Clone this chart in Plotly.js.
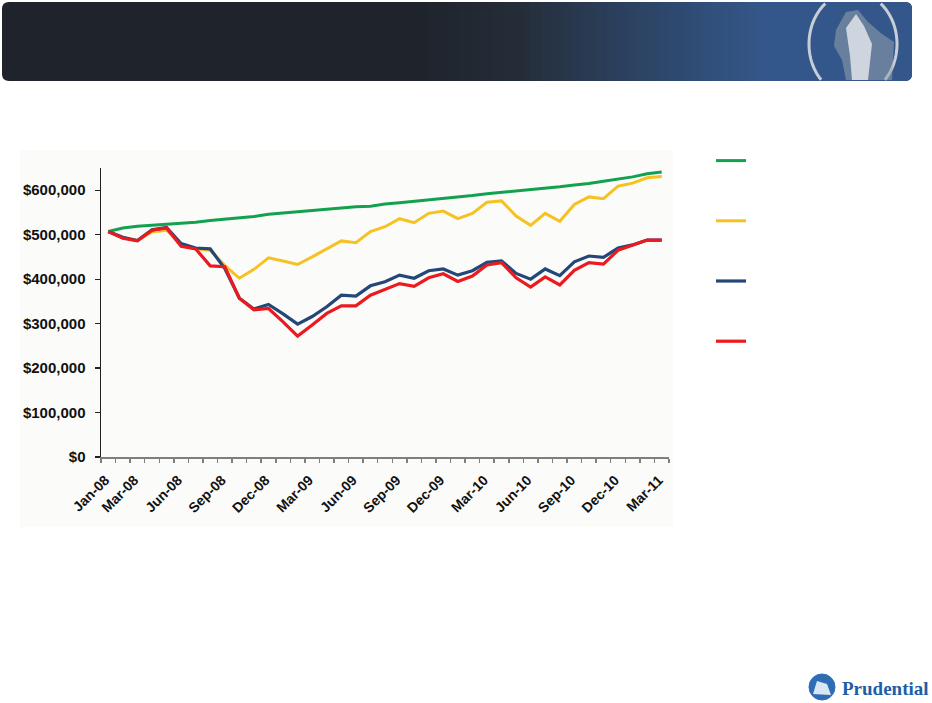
<!DOCTYPE html>
<html>
<head>
<meta charset="utf-8">
<script src="https://cdn.plot.ly/plotly-3.0.1.min.js"></script>
<style>
html,body{margin:0;padding:0;background:#ffffff;}
#chart{width:932px;height:703px;}
</style>
</head>
<body>
<div id="chart"></div>
<script>
// ---- data ----
var months = ["Jan-08","Feb-08","Mar-08","Apr-08","May-08","Jun-08","Jul-08","Aug-08","Sep-08","Oct-08","Nov-08","Dec-08",
  "Jan-09","Feb-09","Mar-09","Apr-09","May-09","Jun-09","Jul-09","Aug-09","Sep-09","Oct-09","Nov-09","Dec-09",
  "Jan-10","Feb-10","Mar-10","Apr-10","May-10","Jun-10","Jul-10","Aug-10","Sep-10","Oct-10","Nov-10","Dec-10",
  "Jan-11","Feb-11","Mar-11"];
var tickLabels = ["Jan-08","Mar-08","Jun-08","Sep-08","Dec-08","Mar-09","Jun-09","Sep-09","Dec-09","Mar-10","Jun-10","Sep-10","Dec-10","Mar-11"];
var yTicks = [0,100000,200000,300000,400000,500000,600000];
var yTickLabels = ["$0","$100,000","$200,000","$300,000","$400,000","$500,000","$600,000"];

var greenSeries = [507000,515000,519000,521000,524000,525000,528000,532000,535000,539000,541000,546000,
  549000,552000,555000,558000,561000,563000,564000,569000,572000,575000,578000,581000,
  584000,588000,592000,595000,598000,602000,605000,608000,612000,615000,620000,625000,
  630000,637000,641000];
var yellowSeries = [507000,493000,487000,506000,510000,478000,468000,465000,431000,402000,422000,448000,
  441000,433000,450000,468000,486000,482000,507000,518000,536000,527000,548000,553000,
  536000,548000,573000,576000,542000,521000,548000,530000,568000,585000,581000,609000,
  616000,628000,631000];
var blueSeries = [507000,494000,487000,511000,516000,480000,470000,468000,424000,357000,333000,343000,
  322000,299000,316000,338000,364000,362000,385000,394000,409000,402000,419000,423000,
  409000,419000,438000,441000,413000,400000,423000,408000,439000,452000,449000,470000,
  477000,488000,488000];
var redSeries = [507000,492000,486000,510000,515000,474000,468000,430000,428000,357000,331000,334000,
  304000,272000,297000,323000,340000,340000,364000,377000,390000,384000,403000,412000,
  395000,407000,432000,437000,403000,382000,405000,387000,420000,437000,434000,465000,
  477000,488000,488000];

// ---- geometry helpers (plot area in pixels) ----
var L = 101, T = 168, W = 568, H = 289;
function px(x){ return (x - L) / W; }
function py(y){ return (T + H - y) / H; }

function hexToRgb(h){ h=h.replace('#',''); return [parseInt(h.substr(0,2),16),parseInt(h.substr(2,2),16),parseInt(h.substr(4,2),16)]; }
function mix(a,b,t){ var A=hexToRgb(a),B=hexToRgb(b); return 'rgb('+Math.round(A[0]+(B[0]-A[0])*t)+','+Math.round(A[1]+(B[1]-A[1])*t)+','+Math.round(A[2]+(B[2]-A[2])*t)+')'; }
function P(x,y){ return px(x).toFixed(5)+','+py(y).toFixed(5); }

function roundRectPath(x0,y0,x1,y1,r,roundLeft,roundRight){
  var p = [];
  if(roundLeft){ p.push('M'+P(x0+r,y0)); } else { p.push('M'+P(x0,y0)); }
  if(roundRight){ p.push('L'+P(x1-r,y0)); p.push('Q'+P(x1,y0)+' '+P(x1,y0+r)); p.push('L'+P(x1,y1-r)); p.push('Q'+P(x1,y1)+' '+P(x1-r,y1)); }
  else { p.push('L'+P(x1,y0)); p.push('L'+P(x1,y1)); }
  if(roundLeft){ p.push('L'+P(x0+r,y1)); p.push('Q'+P(x0,y1)+' '+P(x0,y1-r)); p.push('L'+P(x0,y0+r)); p.push('Q'+P(x0,y0)+' '+P(x0+r,y0)); }
  else { p.push('L'+P(x0,y1)); }
  p.push('Z');
  return p.join(' ');
}
function polyPath(pts){ return 'M'+pts.map(function(p){return P(p[0],p[1]);}).join(' L')+' Z'; }

var shapes = [];
// chart background panel
shapes.push({type:'rect', xref:'paper', yref:'paper', x0:px(20), x1:px(673), y0:py(527), y1:py(150),
  fillcolor:'#fbfcfa', line:{width:0}, layer:'below'});

// header band
var cDark = '#1f242c', cMid = '#252d39', cBlue = '#33578a';
shapes.push({type:'path', xref:'paper', yref:'paper', path:roundRectPath(2,2,912,81,7,true,true), fillcolor:cDark, line:{width:0}, layer:'above'});
shapes.push({type:'path', xref:'paper', yref:'paper', path:roundRectPath(760,2,912,81,7,false,true), fillcolor:cBlue, line:{width:0}, layer:'above'});
var g0 = 420, g1 = 761, steps = 62;
for (var i=0;i<steps;i++){
  var xa = g0 + (g1-g0)*i/steps, xb = g0 + (g1-g0)*(i+1)/steps + 0.6;
  var t = (i+0.5)/steps;
  var col = t < 0.3 ? mix(cDark,cMid,t/0.3) : mix(cMid,cBlue,Math.pow((t-0.3)/0.7,0.9));
  shapes.push({type:'rect', xref:'paper', yref:'paper', x0:px(xa), x1:px(xb), y0:py(81), y1:py(2), fillcolor:col, line:{width:0}, layer:'above'});
}
// silver ring of header emblem (clipped to band)
(function(){
  var cx=853, cy=44, rx=44, ry=52, seg=[];
  var segs=[];
  for (var k=0;k<=240;k++){
    var th = 2*Math.PI*k/240;
    var x = cx + rx*Math.cos(th), y = cy + ry*Math.sin(th);
    if (y>3 && y<80){ seg.push(P(x,y)); }
    else if (seg.length){ segs.push(seg); seg=[]; }
  }
  if (seg.length) segs.push(seg);
  segs.forEach(function(s){
    shapes.push({type:'path', xref:'paper', yref:'paper', path:'M'+s.join(' L'), line:{color:'#c9ced6', width:3}, layer:'above'});
  });
  // emblem figure (rock / figure silhouette)
  shapes.push({type:'path', xref:'paper', yref:'paper',
    path:polyPath([[836,30],[846,12],[858,10],[868,22],[882,34],[894,42],[892,80],[846,80],[842,60],[834,46]]),
    fillcolor:'rgba(150,160,175,0.55)', line:{width:0}, layer:'above'});
  shapes.push({type:'path', xref:'paper', yref:'paper',
    path:polyPath([[846,28],[856,14],[864,26],[872,44],[868,80],[852,80],[850,56]]),
    fillcolor:'rgba(225,228,233,0.85)', line:{width:0}, layer:'above'});
})();

// Prudential footer emblem
shapes.push({type:'circle', xref:'paper', yref:'paper', x0:px(809), x1:px(835), y0:py(700), y1:py(674),
  fillcolor:'#2e6db4', line:{color:'#2e6db4', width:1}, layer:'above'});
shapes.push({type:'path', xref:'paper', yref:'paper',
  path:polyPath([[813,694],[817,681],[827,684],[831,695]]),
  fillcolor:'#d9e6f3', line:{width:0}, layer:'above'});

var tickText = months.map(function(m){ return tickLabels.indexOf(m) >= 0 ? m : ''; });

var traces = [
  {x:months, y:greenSeries, type:'scatter', mode:'lines', name:' ', legendgroup:'g', line:{color:'#13a14f', width:3}},
  {x:months, y:yellowSeries, type:'scatter', mode:'lines', name:' ', legendgroup:'y', line:{color:'#f6c223', width:3}},
  {x:months, y:blueSeries, type:'scatter', mode:'lines', name:' ', legendgroup:'b', line:{color:'#244777', width:3.2}},
  {x:months, y:redSeries, type:'scatter', mode:'lines', name:' ', legendgroup:'r', line:{color:'#ea1a1e', width:3.2}}
];

var layout = {
  width:932, height:703,
  margin:{l:L, r:932-L-W, t:T, b:703-T-H, pad:0},
  paper_bgcolor:'#ffffff', plot_bgcolor:'rgba(0,0,0,0)',
  showlegend:true,
  legend:{x:px(711), xanchor:'left', y:py(145), yanchor:'top', tracegroupgap:39, itemwidth:30,
    font:{family:'Liberation Sans, Arial, sans-serif', size:14, color:'#ffffff'}, bgcolor:'rgba(0,0,0,0)'},
  xaxis:{type:'category', categoryorder:'array', categoryarray:months, range:[-0.5, months.length-0.5],
    tickmode:'array', tickvals:months, ticktext:tickText, tickson:'boundaries',
    ticks:'outside', ticklen:4, tickwidth:1.5, tickcolor:'#7f7f7f',
    showline:true, linecolor:'#7f7f7f', linewidth:1.5, showgrid:false, zeroline:false,
    ticklabelstandoff:8, ticklabelshift:-3,
    tickangle:-45, tickfont:{family:'Liberation Sans, Arial, sans-serif', size:14, weight:'bold', color:'#111111'}},
  yaxis:{range:[0,650000], tickmode:'array', tickvals:yTicks, ticktext:yTickLabels,
    ticks:'outside', ticklen:5, tickwidth:1.2, tickcolor:'#222222',
    showline:true, linecolor:'#222222', linewidth:1.5, showgrid:false, zeroline:false,
    ticklabelstandoff:6,
    tickfont:{family:'Liberation Sans, Arial, sans-serif', size:15, weight:'bold', color:'#111111'}},
  shapes:shapes,
  annotations:[
    {xref:'paper', yref:'paper', x:px(840), y:py(688), xanchor:'left', yanchor:'middle', showarrow:false,
     text:'Prudential', font:{family:'Liberation Serif, DejaVu Serif, serif', size:19, weight:'bold', color:'#1d5ea6'}}
  ]
};

Plotly.newPlot('chart', traces, layout, {displayModeBar:false, staticPlot:true});
</script>
</body>
</html>
